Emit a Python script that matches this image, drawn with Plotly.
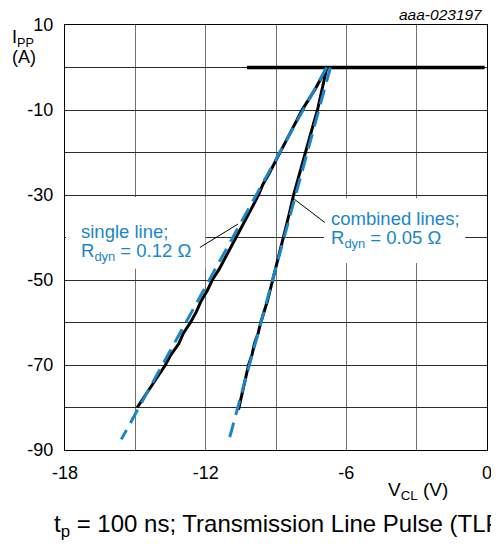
import plotly.graph_objects as go

# ---- data ----
single_i = [0, -2.5, -5, -7.5, -10, -12.5, -15, -17.5, -20, -22.5, -25, -27.5,
            -30, -32.5, -35, -37.5, -40, -42.5, -45, -47.5, -50, -52.5,
            -55, -57.5, -60, -62.5, -65, -67.5, -70, -72.5, -75, -77.5, -80]
single_v = [-6.83, -7.07, -7.32, -7.6, -7.89, -8.12, -8.35, -8.58, -8.81, -9.05, -9.3, -9.56,
            -9.75, -9.98, -10.22, -10.47, -10.71, -10.95, -11.2, -11.43, -11.72, -11.93,
            -12.2, -12.4, -12.65, -12.95, -13.15, -13.47, -13.72, -14.02, -14.3, -14.62, -14.92]

comb_i = [0, -5, -10, -15, -20, -25, -30, -35, -40, -45, -50, -55,
          -60, -62.5, -65, -67.5, -70, -72.5, -75, -77.5, -80.5]
comb_v = [-6.83, -7.02, -7.23, -7.49, -7.75, -8.0, -8.25, -8.46, -8.68, -8.9, -9.12, -9.37,
          -9.65, -9.76, -9.92, -10.02, -10.17, -10.27, -10.4, -10.5, -10.6]

flat_v = [-10.24, -0.1]
flat_i = [0, 0]

fit_single_v = [-6.84, -15.6]
fit_single_i = [0, -87.5]
fit_comb_v = [-6.68, -11.0]
fit_comb_i = [0, -87.5]

x_ticks = [-18, -15, -12, -9, -6, -3, 0]
x_labels = ["-18", "", "-12", "", "-6", "", "0"]
y_ticks = [10, 0, -10, -20, -30, -40, -50, -60, -70, -80, -90]
y_labels = ["10", "", "-10", "", "-30", "", "-50", "", "-70", "", "-90"]

BLUE = "#1a86c8"
FONT = "Liberation Sans, Arial, sans-serif"

# page body has an 8px margin; plot area on screen spans x 65..492, y 23..450
OFF = 8
SX0, SX1, SY0, SY1 = 65, 492, 23, 450
W, H = 499 - OFF, 545 - OFF
L, T = SX0 - OFF, SY0 - OFF
R, B = W - (SX1 - OFF), H - (SY1 - OFF)
PW, PH = SX1 - SX0, SY1 - SY0


def px(sx):
    return (sx - SX0) / PW


def py(sy):
    return (SY1 - sy) / PH


fig = go.Figure()
fig.add_trace(go.Scatter(x=flat_v, y=flat_i, mode="lines",
                         line=dict(color="black", width=3.4), hoverinfo="skip"))
fig.add_trace(go.Scatter(x=single_v, y=single_i, mode="lines",
                         line=dict(color="black", width=3), hoverinfo="skip"))
fig.add_trace(go.Scatter(x=comb_v, y=comb_i, mode="lines",
                         line=dict(color="black", width=3), hoverinfo="skip"))
fig.add_trace(go.Scatter(x=fit_single_v, y=fit_single_i, mode="lines",
                         line=dict(color=BLUE, width=3, dash="15px,8px"), hoverinfo="skip"))
fig.add_trace(go.Scatter(x=fit_comb_v, y=fit_comb_i, mode="lines",
                         line=dict(color=BLUE, width=3, dash="15px,8px"), hoverinfo="skip"))


def ann(text, sx, sy, size, color="black", xanchor="left"):
    return dict(text=text, x=px(sx), y=py(sy), xref="paper", yref="paper",
                xanchor=xanchor, yanchor="middle", showarrow=False, align="left",
                font=dict(size=size, color=color, family=FONT))


annotations = [
    ann("<i>aaa-023197</i>", 490, 12, 15.5, xanchor="right"),
    ann("I<sub>PP</sub>", 9, 37, 18),
    ann("(A)", 9, 55, 18),
    ann("V<sub>CL</sub> (V)", 390, 491, 19),
    ann("t<sub>p</sub> = 100 ns; Transmission Line Pulse (TLP)", 52, 526, 24),
    ann("single line;", 79, 230, 18.5, BLUE),
    ann("R<sub>dyn</sub> = 0.12 Ω", 79, 251, 18.5, BLUE),
    ann("combined lines;", 332, 217, 18.5, BLUE),
    ann("R<sub>dyn</sub> = 0.05 Ω", 332, 238, 18.5, BLUE),
]

shapes = [
    # white boxes behind the labels
    dict(type="rect", xref="paper", yref="paper", x0=px(66), x1=px(207), y0=py(268), y1=py(196),
         fillcolor="white", line=dict(width=0), layer="above"),
    dict(type="rect", xref="paper", yref="paper", x0=px(327), x1=px(470), y0=py(262), y1=py(197),
         fillcolor="white", line=dict(width=0), layer="above"),
    # pointer lines
    dict(type="line", xref="paper", yref="paper", x0=px(201.5), y0=py(246.5), x1=px(240), y1=py(223),
         line=dict(color="black", width=1), layer="above"),
    dict(type="line", xref="paper", yref="paper", x0=px(328), y0=py(221.5), x1=px(297), y1=py(198),
         line=dict(color="black", width=1), layer="above"),
]

fig.update_layout(
    width=W, height=H,
    margin=dict(l=L, r=R, t=T, b=B, pad=0),
    paper_bgcolor="white", plot_bgcolor="white",
    showlegend=False,
    font=dict(family=FONT, size=18, color="black"),
    annotations=annotations,
    shapes=shapes,
    xaxis=dict(range=[-18, 0], tickvals=x_ticks, ticktext=x_labels,
               showgrid=True, gridcolor="#707070", gridwidth=1.3,
               showline=True, linecolor="black", linewidth=1.3, mirror=True,
               zeroline=False, ticks="outside", ticklen=6, tickcolor="rgba(0,0,0,0)",
               tickfont=dict(size=18, family=FONT)),
    yaxis=dict(range=[-90, 10], tickvals=y_ticks, ticktext=y_labels,
               showgrid=True, gridcolor="#2a2a2a", gridwidth=1.3,
               showline=True, linecolor="black", linewidth=1.3, mirror=True,
               zeroline=False, ticks="outside", ticklen=7, tickcolor="rgba(0,0,0,0)",
               tickfont=dict(size=18, family=FONT)),
)

fig.write_html("out.html")
